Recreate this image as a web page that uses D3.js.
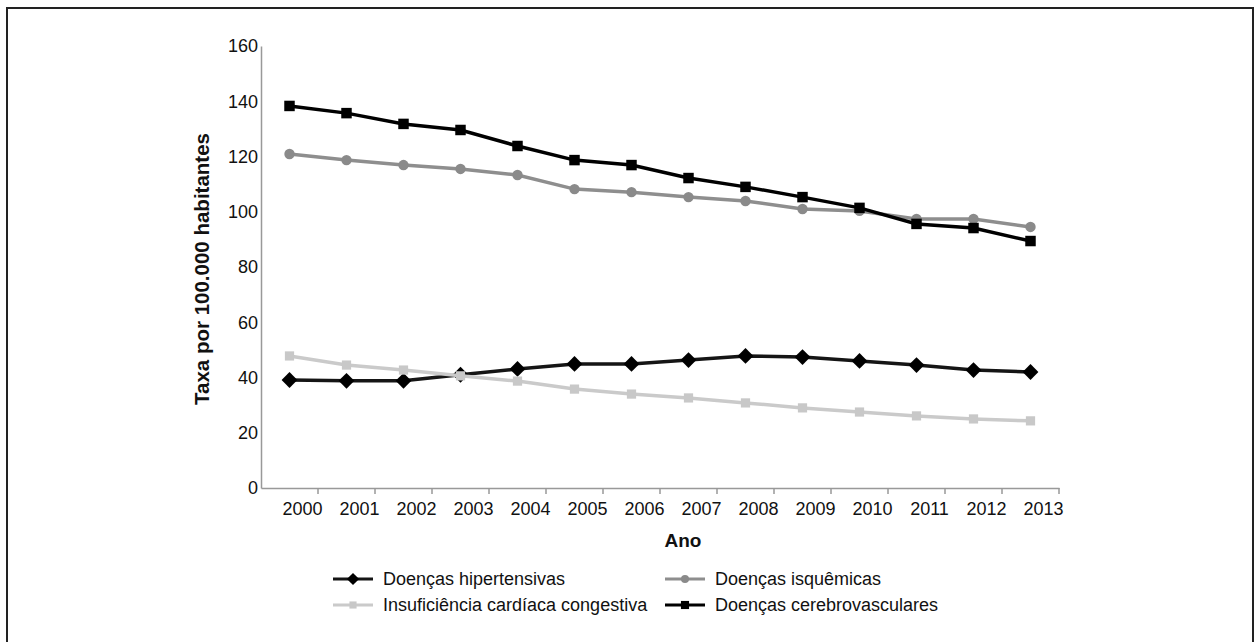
<!DOCTYPE html>
<html>
<head>
<meta charset="utf-8">
<script src="https://cdn.jsdelivr.net/npm/d3@7"></script>
<style>
body{margin:0;background:#fff;}
svg text{font-family:"Liberation Sans",Arial,sans-serif;fill:#111;}
</style>
</head>
<body>
<svg id="canvas" width="1260" height="642"></svg>
<script>
let anos=[2000,2001,2002,2003,2004,2005,2006,2007,2008,2009,2010,2011,2012,2013]
let hipertensivas=[39.1,38.8,38.8,41.0,43.1,44.9,44.9,46.3,47.8,47.4,46.0,44.5,42.7,42.0]
let isquemicas=[120.9,118.7,116.9,115.5,113.3,108.2,107.1,105.3,103.9,101.0,100.3,97.4,97.4,94.5]
let insuficiencia=[47.8,44.5,42.7,40.6,38.7,35.8,34.0,32.6,30.8,29.0,27.5,26.1,25.0,24.3]
let cerebro=[138.3,135.7,131.8,129.6,123.8,118.7,116.9,112.2,109.0,105.3,101.4,95.6,94.1,89.4]
let yticks=[0,20,40,60,80,100,120,140,160]

let series=[
    {nome:"Doenças hipertensivas",vals:hipertensivas,cor:"#151515",mcor:"#000",marca:d3.symbolSquare,rot:45,msize:125},
    {nome:"Insuficiência cardíaca congestiva",vals:insuficiencia,cor:"#cacaca",mcor:"#c8c8c8",marca:d3.symbolSquare,rot:0,msize:85},
    {nome:"Doenças isquêmicas",vals:isquemicas,cor:"#8e8e8e",mcor:"#8a8a8a",marca:d3.symbolCircle,rot:0,msize:85},
    {nome:"Doenças cerebrovasculares",vals:cerebro,cor:"#000",mcor:"#000",marca:d3.symbolSquare,rot:0,msize:110}
]

let canvas=d3.select("#canvas")

// moldura
canvas.append("rect")
    .attr("x",7).attr("y",8)
    .attr("width",1246).attr("height",700)
    .attr("fill","none").attr("stroke","#222").attr("stroke-width",2)

const x=d3.scaleBand().domain(anos).range([261,1059]).padding(0)
const y=d3.scaleLinear().domain([0,160]).range([488,46])

// eixo y
const yaxis=d3.axisLeft(y).tickValues(yticks).tickSize(0).tickPadding(3)
const gy=canvas.append("g").attr("transform","translate(261,0)").call(yaxis)
gy.select(".domain").attr("stroke","#999").attr("stroke-width",1.5)
gy.selectAll("text").style("font-size","18px").attr("fill","#111")

// eixo x
const xaxis=d3.axisBottom(x).tickSize(0).tickPadding(14)
const gx=canvas.append("g").attr("transform","translate(0,488)").call(xaxis)
gx.select(".domain").attr("stroke","#999").attr("stroke-width",1.5)
gx.selectAll("text").style("font-size","18px").attr("fill","#111").attr("dx",13)
gx.selectAll(".tick").append("line")
    .attr("x1",x.bandwidth()/2).attr("x2",x.bandwidth()/2)
    .attr("y1",0).attr("y2",6)
    .attr("stroke","#999").attr("stroke-width",1.5)

// titulos
canvas.append("text")
    .attr("transform","translate(209,269) rotate(-90)")
    .attr("text-anchor","middle")
    .style("font-size","20.5px").style("font-weight","bold")
    .text("Taxa por 100.000 habitantes")
canvas.append("text")
    .attr("x",683).attr("y",547)
    .attr("text-anchor","middle")
    .style("font-size","19px").style("font-weight","bold")
    .text("Ano")

// linhas
const line=d3.line()
    .x((d,i)=>x(anos[i])+x.bandwidth()/2)
    .y(d=>y(d))

series.forEach(s=>{
    canvas.append("path")
        .datum(s.vals)
        .attr("d",line)
        .attr("fill","none")
        .attr("stroke",s.cor)
        .attr("stroke-width",3.5)
    canvas.selectAll(null)
        .data(s.vals)
        .enter()
        .append("path")
        .attr("d",d3.symbol().type(s.marca).size(s.msize))
        .attr("transform",(d,i)=>`translate(${x(anos[i])+x.bandwidth()/2},${y(d)}) rotate(${s.rot})`)
        .attr("fill",s.mcor)
})

// legenda
const legenda=[
    {s:series[0],lx:333,ly:579},
    {s:series[2],lx:665,ly:579},
    {s:series[1],lx:333,ly:605},
    {s:series[3],lx:665,ly:605}
]
legenda.forEach(l=>{
    canvas.append("line")
        .attr("x1",l.lx).attr("x2",l.lx+40)
        .attr("y1",l.ly).attr("y2",l.ly)
        .attr("stroke",l.s.cor).attr("stroke-width",3)
    canvas.append("path")
        .attr("d",d3.symbol().type(l.s.marca).size(l.s.msize*0.6))
        .attr("transform",`translate(${l.lx+20},${l.ly}) rotate(${l.s.rot})`)
        .attr("fill",l.s.mcor)
    canvas.append("text")
        .attr("x",l.lx+50).attr("y",l.ly+6)
        .style("font-size","18px")
        .text(l.s.nome)
})
</script>
</body>
</html>
